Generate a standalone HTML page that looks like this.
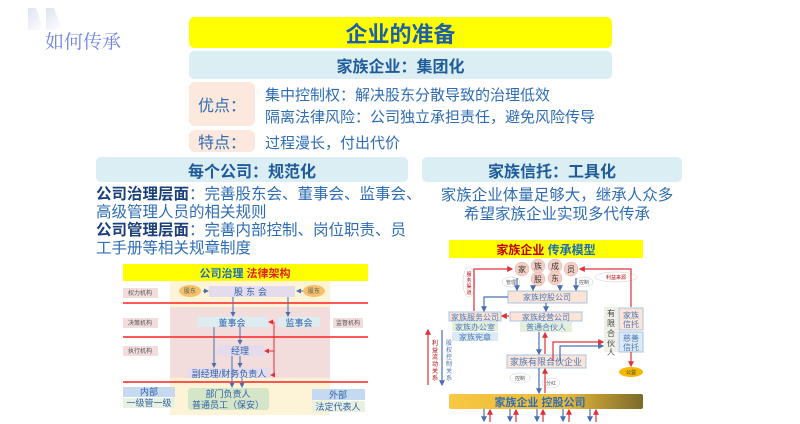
<!DOCTYPE html>
<html><head><meta charset="utf-8"><style>
body{margin:0;width:800px;height:424px;background:#fff;overflow:hidden;position:relative;font-family:"Liberation Sans","Noto Sans CJK SC",sans-serif;}
.a{position:absolute;box-sizing:border-box;}
.c{display:flex;align-items:center;justify-content:center;}
.t{color:#2e6db5;font-size:14.5px;white-space:nowrap;}
b{color:#1a3f7a;}
</style></head><body>
<div class="a" style="left:28px;top:8px;width:16px;height:22px;background:linear-gradient(135deg,#dfe3ef,#fff);clip-path:polygon(0 0,50% 0,100% 100%,0 100%)"></div>
<div class="a" style="left:46px;top:8px;width:16px;height:22px;background:linear-gradient(135deg,#dfe3ef,#fff);clip-path:polygon(0 0,50% 0,100% 100%,0 100%)"></div>
<div class="a" style="left:45px;top:27px;font-family:'Noto Serif CJK SC',serif;font-size:19px;color:#6f85e6;">如何传承</div>

<div class="a c" style="left:189px;top:17px;width:423px;height:31px;background:#ffff00;border-radius:5px;font-size:22px;font-weight:bold;color:#1d5fa8;">企业的准备</div>
<div class="a c" style="left:189px;top:51px;width:423px;height:28px;background:#daeef3;border-radius:5px;font-size:16px;font-weight:bold;color:#1f5b99;">家族企业：集团化</div>
<div class="a c" style="left:189px;top:82px;width:66px;height:44px;background:#fce8dc;border-radius:6px;font-size:16px;color:#2e6db5;">优点：</div>
<div class="a t" style="left:265px;top:84px;font-size:15px;">集中控制权：解决股东分散导致的治理低效</div>
<div class="a t" style="left:265px;top:106px;font-size:15px;">隔离法律风险：公司独立承担责任，避免风险传导</div>
<div class="a c" style="left:189px;top:130px;width:66px;height:22px;background:#fce8dc;border-radius:6px;font-size:16px;color:#2e6db5;">特点：</div>
<div class="a t" style="left:265px;top:132px;font-size:15px;">过程漫长，付出代价</div>

<div class="a c" style="left:96px;top:157px;width:312px;height:25px;background:#daeef3;border-radius:5px;font-size:16px;font-weight:bold;color:#1f5b99;">每个公司：规范化</div>
<div class="a c" style="left:422px;top:157px;width:260px;height:25px;background:#daeef3;border-radius:5px;font-size:16px;font-weight:bold;color:#1f5b99;">家族信托：工具化</div>
<div class="a t" style="left:96px;top:186px;line-height:18px;font-size:15.5px;"><b>公司治理层面</b>：完善股东会、董事会、监事会、<br>高级管理人员的相关规则<br><b>公司管理层面</b>：完善内部控制、岗位职责、员<br>工手册等相关规章制度</div>
<div class="a t" style="left:422px;top:186px;width:270px;text-align:center;line-height:19px;font-size:15.5px;">家族企业体量足够大，继承人众多<br>希望家族企业实现多代传承</div>

<svg class="a" style="left:0;top:0" width="800" height="424" font-family="Liberation Sans,Noto Sans CJK SC,sans-serif">
<defs>
<marker id="bl" markerWidth="5" markerHeight="5" refX="4" refY="2.5" orient="auto"><path d="M0,0L5,2.5L0,5z" fill="#4a6fb0"/></marker>
<marker id="rd" markerWidth="5" markerHeight="5" refX="4" refY="2.5" orient="auto"><path d="M0,0L5,2.5L0,5z" fill="#e0303a"/></marker>
<linearGradient id="gold" x1="0" x2="1"><stop offset="0" stop-color="#f7c842"/><stop offset=".6" stop-color="#e9b83a"/><stop offset="1" stop-color="#7a6a2a"/></linearGradient>
</defs>
<rect x="123" y="264" width="245" height="17" fill="#ffff00"/>
<text x="245" y="277" font-size="11" font-weight="bold" text-anchor="middle"><tspan fill="#1d6fb5">公司治理 </tspan><tspan fill="#e02020">法律架构</tspan></text>
<rect x="170" y="281" width="160" height="134" fill="#fdf3d6"/>
<rect x="170" y="307" width="160" height="71" fill="#f2dcdc"/>
<g font-size="6" fill="#555" text-anchor="middle">
<rect x="123" y="288" width="35" height="10" fill="#f2dcdc"/><text x="140" y="295">权力机构</text>
<rect x="123" y="318" width="35" height="10" fill="#f2dcdc"/><text x="140" y="325">决策机构</text>
<rect x="123" y="346" width="35" height="10" fill="#f2dcdc"/><text x="140" y="353">执行机构</text>
<rect x="333" y="318" width="30" height="10" fill="#f2dcdc"/><text x="348" y="325">监督机构</text>
<ellipse cx="190" cy="291" rx="11" ry="6" fill="#f5c26b"/><text x="190" y="293">股东</text>
<ellipse cx="314" cy="291" rx="11" ry="6" fill="#f5c26b"/><text x="314" y="293">股东</text>
</g>
<g stroke="#ff2020" stroke-width="1.5"><line x1="123" y1="303" x2="368" y2="303"/><line x1="123" y1="337" x2="368" y2="337"/><line x1="123" y1="382" x2="368" y2="382"/></g>
<g font-size="9" fill="#2e5fa8" text-anchor="middle">
<rect x="209" y="286" width="86" height="11" fill="#e4dcec"/><text x="252" y="295" letter-spacing="3">股东会</text>
<rect x="197" y="317" width="71" height="10" fill="#dcecf0"/><text x="232" y="326">董事会</text>
<rect x="278" y="317" width="42" height="10" fill="#dcecf0"/><text x="299" y="326">监事会</text>
<rect x="217" y="345" width="47" height="11" fill="#e4dcec"/><text x="240" y="354">经理</text>
<rect x="188" y="368" width="82" height="10" fill="#e4dcec"/><text x="229" y="377">副经理/财务负责人</text>
<rect x="123" y="387" width="52" height="10" fill="#c5d9f1"/><text x="149" y="395">内部</text>
<rect x="123" y="398" width="52" height="10" fill="#e8f0e0"/><text x="149" y="406">一级管一级</text>
<rect x="188" y="388" width="81" height="22" rx="3" fill="#d5e6c8"/><text x="228" y="397">部门负责人</text><text x="228" y="408">普通员工（保安）</text>
<rect x="312" y="389" width="53" height="11" fill="#c5d9f1"/><text x="338" y="398">外部</text>
<rect x="312" y="401" width="53" height="11" fill="#e8f0e0"/><text x="338" y="410">法定代表人</text>
</g>
<g stroke="#4a6fb0" stroke-width="1" fill="none" marker-end="url(#bl)">
<line x1="203" y1="291" x2="208" y2="291"/><line x1="303" y1="291" x2="297" y2="291"/>
<line x1="233" y1="297" x2="233" y2="316"/><line x1="288" y1="297" x2="288" y2="316"/>
<line x1="240" y1="327" x2="240" y2="344"/><line x1="214" y1="327" x2="214" y2="367"/>
<line x1="240" y1="356" x2="240" y2="367"/><line x1="232" y1="356" x2="232" y2="387"/><line x1="242" y1="378" x2="242" y2="387"/>
</g>
<g stroke="#e0303a" stroke-width="1" fill="none"><polyline points="274,322 274,375 271,375" marker-end="url(#rd)"/><line x1="274" y1="322" x2="269" y2="322" marker-end="url(#rd)"/><line x1="274" y1="351" x2="265" y2="351" marker-end="url(#rd)"/></g>

<rect x="449" y="240" width="194" height="18" fill="#ffff00"/>
<text x="546" y="254" font-size="12" font-weight="bold" text-anchor="middle"><tspan fill="#c00000">家族企业 </tspan><tspan fill="#1d6fb5">传承模型</tspan></text>
<g fill="#f4cfc6" stroke="#e8b0a8" stroke-width=".5">
<circle cx="522" cy="269" r="7"/><circle cx="538" cy="266" r="7"/><circle cx="555" cy="266" r="7"/><circle cx="571" cy="269" r="7"/><circle cx="538" cy="279" r="7"/><circle cx="555" cy="278" r="7"/></g>
<g font-size="8" fill="#333" text-anchor="middle"><text x="522" y="272">家</text><text x="538" y="269">族</text><text x="555" y="269">成</text><text x="571" y="272">员</text><text x="538" y="282">股</text><text x="555" y="281">东</text></g>
<g fill="#fff" stroke="#ccc" stroke-width=".5">
<ellipse cx="511" cy="282" rx="9" ry="5"/><ellipse cx="584" cy="282" rx="9" ry="5"/><ellipse cx="616" cy="277" rx="21" ry="5"/><ellipse cx="469" cy="282" rx="6" ry="15"/>
<ellipse cx="520" cy="378" rx="10" ry="5"/><ellipse cx="551" cy="383" rx="9" ry="5"/></g>
<g font-size="5" fill="#555" text-anchor="middle"><text x="511" y="284">管理</text><text x="584" y="284">控制</text><text x="520" y="380">控制</text><text x="551" y="385">分红</text>
<text x="616" y="279" fill="#c00000">利益来源</text>
<text x="469" y="276" fill="#c00000">服</text><text x="469" y="282" fill="#c00000">务</text><text x="469" y="288" fill="#c00000">渠</text><text x="469" y="294" fill="#c00000">道</text></g>
<g font-size="8" fill="#4a78b8" text-anchor="middle">
<rect x="508" y="291" width="79" height="12" fill="#fce4d6" stroke="#a9c4e4"/><text x="547" y="300">家族控股公司</text>
<rect x="449" y="312" width="52" height="9" fill="#fce4d6" stroke="#a9c4e4"/><text x="475" y="320">家族服务公司</text>
<rect x="452" y="322" width="46" height="9" fill="#e4efdb"/><text x="475" y="330">家族办公室</text>
<rect x="452" y="332" width="46" height="9" fill="#dbeaf5"/><text x="475" y="340">家族宪章</text>
<rect x="510" y="312" width="72" height="9" fill="#fce4d6" stroke="#a9c4e4"/><text x="546" y="320">家族经营公司</text>
<rect x="520" y="322" width="52" height="10" fill="#e4efdb"/><text x="546" y="330">普通合伙人</text>
<rect x="604" y="307" width="14" height="45" fill="#eef0e8"/>
<text x="611" y="316" fill="#444">有</text><text x="611" y="326" fill="#444">限</text><text x="611" y="336" fill="#444">合</text><text x="611" y="346" fill="#444">伙</text><text x="611" y="355" fill="#444">人</text>
<rect x="619" y="308" width="24" height="22" fill="#fce4d6" stroke="#a9c4e4"/><text x="631" y="318">家族</text><text x="631" y="327">信托</text>
<rect x="619" y="332" width="24" height="20" fill="#dbeaf5" stroke="#a9c4e4"/><text x="631" y="341">慈善</text><text x="631" y="350">信托</text>
<rect x="507" y="355" width="79" height="13" fill="#fce4d6" stroke="#a9c4e4"/><text x="546" y="365" font-size="9">家族有限合伙企业</text>
</g>
<ellipse cx="631" cy="372" rx="12" ry="5" fill="#f5b800"/><text x="631" y="374" font-size="5" text-anchor="middle" fill="#333">公益</text>
<rect x="449" y="394" width="194" height="15" rx="2" fill="url(#gold)"/>
<text x="540" y="406" font-size="11" font-weight="bold" fill="#2e6db5" text-anchor="middle">家族企业 控股公司</text>
<g stroke="#4a6fb0" stroke-width="1.2" fill="none" marker-end="url(#bl)">
<line x1="517" y1="278" x2="517" y2="290"/><line x1="533" y1="285" x2="533" y2="290"/><line x1="560" y1="285" x2="560" y2="290"/><line x1="576" y1="278" x2="576" y2="290"/>
<polyline points="508,297 484,297 484,311"/><line x1="546" y1="303" x2="546" y2="311"/>
<line x1="539" y1="332" x2="539" y2="354"/><polyline points="560,361 560,346 603,346"/>
<line x1="539" y1="368" x2="539" y2="393"/><line x1="442" y1="330" x2="442" y2="385"/>
<line x1="484" y1="409" x2="484" y2="421"/><line x1="510" y1="409" x2="510" y2="421"/><line x1="537" y1="409" x2="537" y2="421"/><line x1="563" y1="409" x2="563" y2="421"/><line x1="590" y1="409" x2="590" y2="421"/>
</g>
<g stroke="#e0303a" stroke-width="1.2" fill="none" marker-end="url(#rd)">
<polyline points="474,311 474,269 512,269"/><polyline points="631,307 631,269 580,269"/>
<line x1="509" y1="316" x2="502" y2="316"/><line x1="545" y1="354" x2="545" y2="333"/>
<polyline points="553,361 553,342 603,342"/><line x1="545" y1="393" x2="545" y2="369"/>
<line x1="631" y1="352" x2="631" y2="366"/><line x1="428" y1="385" x2="428" y2="330"/>
<line x1="490" y1="422" x2="490" y2="410"/><line x1="516" y1="422" x2="516" y2="410"/><line x1="543" y1="422" x2="543" y2="410"/><line x1="569" y1="422" x2="569" y2="410"/><line x1="596" y1="422" x2="596" y2="410"/>
</g>
<g font-size="6" text-anchor="middle">
<text x="435" y="345" fill="#c00000">利</text><text x="435" y="352" fill="#c00000">益</text><text x="435" y="359" fill="#c00000">流</text><text x="435" y="366" fill="#c00000">动</text><text x="435" y="373" fill="#c00000">关</text><text x="435" y="380" fill="#c00000">系</text>
<text x="449" y="345" fill="#4a6fb0">股</text><text x="449" y="352" fill="#4a6fb0">权</text><text x="449" y="359" fill="#4a6fb0">控</text><text x="449" y="366" fill="#4a6fb0">制</text><text x="449" y="373" fill="#4a6fb0">关</text><text x="449" y="380" fill="#4a6fb0">系</text>
</g>
</svg>
</body></html>
